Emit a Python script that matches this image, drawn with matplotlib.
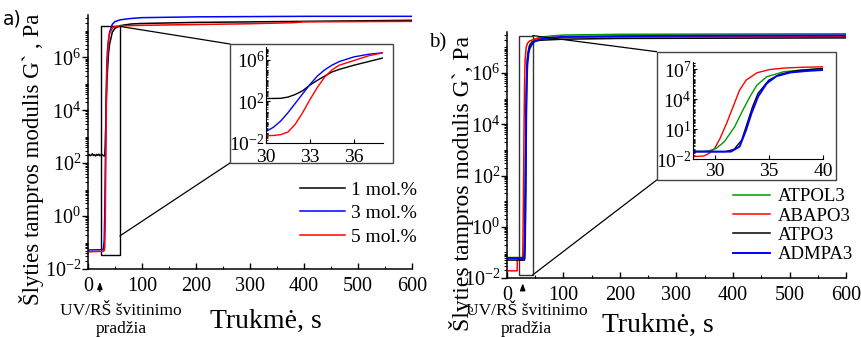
import numpy as np
import matplotlib
matplotlib.use('Agg')
import matplotlib.pyplot as plt
from matplotlib.patches import Rectangle, ConnectionPatch
from matplotlib.ticker import LogLocator, FixedLocator, MultipleLocator, NullFormatter

plt.rcParams['font.family'] = ['Liberation Serif', 'DejaVu Serif']
plt.rcParams['mathtext.fontset'] = 'custom'
plt.rcParams['mathtext.rm'] = 'Liberation Serif'
plt.rcParams['mathtext.it'] = 'Liberation Serif:italic'
plt.rcParams['mathtext.bf'] = 'Liberation Serif:bold'

# ---------------- data (log10 of G', Pa) ----------------
# panel a, main
a_black_t = [0, 2, 4, 6, 8, 10, 12, 14, 16, 18, 20, 22, 24, 26, 28, 30, 31, 32, 33, 34, 35, 36, 37, 38, 40, 45, 50, 60, 80, 100, 150, 200, 300, 400, 500, 600]
a_black_lg = [2.30, 2.33, 2.28, 2.31, 2.35, 2.29, 2.32, 2.27, 2.33, 2.30, 2.34, 2.28, 2.31, 2.33, 2.29, 2.27, 2.28, 2.65, 3.55, 4.4, 5.05, 5.45, 5.8, 6.15, 6.5, 6.95, 7.1, 7.2, 7.26, 7.28, 7.3, 7.32, 7.34, 7.36, 7.38, 7.4]
a_blue_t = [0, 28, 29, 30, 31, 32, 33, 34, 35, 36, 37, 38, 40, 45, 50, 60, 80, 100, 200, 300, 400, 500, 600]
a_blue_lg = [-1.28, -1.27, -1.15, -0.9, 0.1, 1.8, 3.6, 5.0, 5.8, 6.25, 6.5, 6.65, 6.95, 7.25, 7.35, 7.42, 7.47, 7.5, 7.53, 7.54, 7.55, 7.55, 7.55]
a_red_t = [0, 29, 30, 31, 32, 33, 34, 35, 36, 37, 38, 40, 45, 50, 60, 100, 200, 300, 380, 400, 500, 600]
a_red_lg = [-1.35, -1.33, -1.3, -1.2, -0.2, 2.15, 4.3, 5.45, 5.9, 6.35, 6.65, 6.9, 7.1, 7.17, 7.19, 7.21, 7.24, 7.27, 7.31, 7.34, 7.35, 7.36]

# panel a, inset
ai_t = [30, 30.5, 31, 31.5, 32, 32.5, 33, 33.5, 34, 34.5, 35, 36, 37, 38]
ai_black_lg = [2.26, 2.27, 2.28, 2.4, 2.65, 3.0, 3.55, 4.0, 4.4, 4.8, 5.05, 5.45, 5.8, 6.15]
ai_blue_lg = [-0.9, -0.5, 0.1, 0.9, 1.8, 2.7, 3.6, 4.4, 5.0, 5.45, 5.8, 6.25, 6.5, 6.65]
ai_red_lg = [-1.3, -1.28, -1.2, -0.95, -0.2, 0.9, 2.15, 3.3, 4.3, 5.0, 5.45, 5.9, 6.35, 6.65]

# panel b, main
b_green_t = [0, 29, 30, 31, 32, 33, 34, 35, 36, 38, 40, 45, 50, 60, 80, 100, 200, 400, 600]
b_green_lg = [-1.2, -1.2, -0.9, 0.2, 2.0, 3.6, 5.1, 6.1, 6.6, 6.9, 7.1, 7.25, 7.33, 7.4, 7.45, 7.48, 7.51, 7.52, 7.53]
b_red_t = [0, 18, 18.2, 27, 28, 29, 30, 31, 32, 34, 36, 40, 50, 60, 100, 200, 400, 600]
b_red_lg = [-1.72, -1.72, -1.3, -1.3, -1.0, 1.0, 3.5, 5.5, 6.5, 7.0, 7.15, 7.25, 7.33, 7.36, 7.4, 7.41, 7.42, 7.43]
b_black_t = [0, 31, 32, 33, 34, 35, 36, 38, 40, 45, 50, 60, 100, 200, 400, 600]
b_black_lg = [-1.3, -1.3, -0.6, 1.6, 4.5, 5.9, 6.5, 6.85, 7.05, 7.2, 7.25, 7.28, 7.32, 7.35, 7.36, 7.37]
b_blue_t = [0, 31, 32, 33, 34, 35, 36, 38, 40, 45, 50, 60, 80, 100, 200, 400, 600]
b_blue_lg = [-1.22, -1.22, -0.5, 1.5, 4.3, 5.7, 6.3, 6.75, 6.95, 7.15, 7.25, 7.32, 7.38, 7.41, 7.44, 7.46, 7.47]

# panel b, inset
bi_red_t = [28, 29, 29.5, 30, 30.5, 31.1, 31.7, 32.3, 32.9, 33.9, 35.1, 36.5, 38, 40]
bi_red_lg = [-1.73, -1.67, -1.4, -0.9, 0.1, 1.6, 3.27, 4.93, 5.93, 6.67, 7.0, 7.15, 7.22, 7.27]
bi_green_t = [28, 29, 29.5, 30.15, 30.9, 31.85, 32.6, 33.25, 33.9, 34.8, 36.35, 38, 40]
bi_green_lg = [-1.2, -1.2, -1.15, -0.9, -0.23, 1.27, 2.93, 4.27, 5.43, 6.27, 6.77, 6.95, 7.1]
bi_black_t = [28, 31, 31.8, 32.5, 33, 33.5, 34, 35, 36, 37, 38, 40]
bi_black_lg = [-1.23, -1.23, -1.0, -0.07, 1.6, 3.27, 4.6, 5.93, 6.5, 6.77, 6.92, 7.1]
bi_blue_t = [28, 31.5, 32.3, 32.9, 33.4, 34.0, 34.8, 35.7, 37, 38.5, 40]
bi_blue_lg = [-1.23, -1.23, -0.73, 0.93, 2.6, 4.27, 5.6, 6.33, 6.7, 6.85, 6.95]

labels_a = ['1 mol.%', '3 mol.%', '5 mol.%']
labels_b = ['ATPOL3', 'ABAPO3', 'ATPO3', 'ADMPA3']
xticks_main = [0, 100, 200, 300, 400, 500, 600]

C_BLACK, C_BLUE, C_RED, C_GREEN = '#000000', '#0000ff', '#ff0000', '#009a00'

def P(lg):
    return np.power(10.0, np.asarray(lg, dtype=float))

W, H = 862, 337
fig = plt.figure(figsize=(W / 100, H / 100), dpi=100)

def fx(px):
    return px / W

def fy(py):
    return 1 - py / H

def rect(l, t, r, b):
    return [fx(l), fy(b), fx(r) - fx(l), fy(t) - fy(b)]

def style_main(ax, ylab, ylabsize):
    ax.set_yscale('log')
    ax.set_xlim(0, 600)
    ax.set_ylim(1e-2, 10 ** 7.6)
    for s in ['top', 'right']:
        ax.spines[s].set_visible(False)
    for s in ['left', 'bottom']:
        ax.spines[s].set_linewidth(1.1)
    ax.xaxis.set_major_locator(FixedLocator(xticks_main))
    ax.xaxis.set_minor_locator(MultipleLocator(50))
    ax.yaxis.set_major_locator(FixedLocator([1e-2, 1e0, 1e2, 1e4, 1e6]))
    ax.yaxis.set_minor_locator(LogLocator(base=10, subs=np.arange(1, 10), numticks=100))
    ax.yaxis.set_minor_formatter(NullFormatter())
    ax.tick_params(axis='x', which='major', direction='in', length=4, width=1, labelsize=14.5, pad=6)
    ax.tick_params(axis='x', which='minor', direction='in', length=2.5, width=0.8)
    ax.tick_params(axis='y', which='major', direction='out', length=4, width=1, labelsize=14.5, pad=1)
    ax.tick_params(axis='y', which='minor', direction='out', length=2, width=0.7)
    ax.set_ylabel(ylab, fontsize=ylabsize, labelpad=0)

def style_inset(ax, xlim, ylim, xt, yt, ypad, xpad):
    ax.set_yscale('log')
    ax.set_xlim(*xlim)
    ax.set_ylim(*ylim)
    for s in ['top', 'right']:
        ax.spines[s].set_visible(False)
    ax.patch.set_alpha(0)
    ax.xaxis.set_major_locator(FixedLocator(xt))
    ax.yaxis.set_major_locator(FixedLocator(yt))
    ax.yaxis.set_minor_locator(LogLocator(base=10, subs=np.arange(1, 10), numticks=100))
    ax.yaxis.set_minor_formatter(NullFormatter())
    ax.tick_params(axis='x', which='major', direction='in', length=3, labelsize=14, pad=xpad)
    ax.tick_params(axis='y', which='major', direction='in', length=3, labelsize=14, pad=ypad)
    ax.tick_params(axis='y', which='minor', direction='in', length=1.5, width=0.6)

# ================= panel a =================
axA = fig.add_axes(rect(88, 15, 412, 269))
style_main(axA, 'Šlyties tampros modulis G` , Pa', 16.5)
la1, = axA.plot(a_black_t, P(a_black_lg), color=C_BLACK, lw=1.1)
la2, = axA.plot(a_blue_t, P(a_blue_lg), color=C_BLUE, lw=1.1)
la3, = axA.plot(a_red_t, P(a_red_lg), color=C_RED, lw=1.1)
axA.set_xlabel('Trukmė, s', fontsize=20)
axA.xaxis.set_label_coords(0.55, -0.158)
axA.yaxis.set_label_coords(-0.135, 0.43)

# zoom rectangle
zA = (24, 10 ** -1.47, 59, 10 ** 7.17)
axA.add_patch(Rectangle((zA[0], zA[1]), zA[2] - zA[0], zA[3] - zA[1], fill=False, ec='black', lw=1.0, zorder=1))
fig.patches.append(Rectangle((fx(230), fy(163)), fx(393) - fx(230), fy(44) - fy(163), transform=fig.transFigure,
                             fill=False, ec='#444444', lw=1.0, figure=fig))
for (xa, ya), (xb, yb) in [((zA[2], zA[3]), (230, 44)), ((zA[2], 10 ** -0.75), (230, 163))]:
    cp = ConnectionPatch(xyA=(xa, ya), coordsA=axA.transData, xyB=(fx(xb), fy(yb)), coordsB=fig.transFigure,
                         color='black', lw=0.9)
    fig.add_artist(cp)

axA.legend([la1, la2, la3], labels_a, loc='upper left', bbox_to_anchor=(fx(300), fy(181)),
           bbox_transform=fig.transFigure, frameon=False, fontsize=14, borderpad=0, borderaxespad=0,
           handlelength=2.3, handletextpad=0.3, labelspacing=0.3)

axA.annotate('', xy=(22, -0.04), xycoords=('data', 'axes fraction'), xytext=(22, -0.10),
             textcoords=('data', 'axes fraction'),
             arrowprops=dict(arrowstyle='-|>,head_length=0.4,head_width=0.15', color='black', lw=1.0))
fig.text(fx(121), fy(320), 'UV/RŠ švitinimo\npradžia', ha='center', va='center', fontsize=12.5,
         multialignment='center', linespacing=1.15)
fig.text(fx(12), fy(19), 'a)', ha='center', va='center', fontsize=13.5, family='DejaVu Sans')

# inset a
iA = fig.add_axes(rect(266, 47, 383, 143))
style_inset(iA, (30, 38), (1e-2, 10 ** 7.2), [30, 33, 36], [1e-2, 1e2, 1e6], 1, 4)
iA.plot(ai_t, P(ai_black_lg), color=C_BLACK, lw=1.0)
iA.plot(ai_t, P(ai_blue_lg), color=C_BLUE, lw=1.0)
iA.plot(ai_t, P(ai_red_lg), color=C_RED, lw=1.0)

# ================= panel b =================
axB = fig.add_axes(rect(507, 32, 846, 278))
style_main(axB, 'Šlyties tampros modulis G`, Pa', 17)
lb1, = axB.plot(b_green_t, P(b_green_lg), color=C_GREEN, lw=1.1)
lb2, = axB.plot(b_red_t, P(b_red_lg), color=C_RED, lw=1.1)
lb3, = axB.plot(b_black_t, P(b_black_lg), color=C_BLACK, lw=1.1)
lb4, = axB.plot(b_blue_t, P(b_blue_lg), color=C_BLUE, lw=1.4)
axB.set_xlabel('Trukmė, s', fontsize=20)
axB.xaxis.set_label_coords(0.445, -0.142)
axB.yaxis.set_label_coords(-0.097, 0.385)

zB = (21.8, 10 ** -1.88, 45.5, 10 ** 7.46)
axB.add_patch(Rectangle((zB[0], zB[1]), zB[2] - zB[0], zB[3] - zB[1], fill=False, ec='#333333', lw=1.0, zorder=1))
fig.patches.append(Rectangle((fx(656.7), fy(180)), fx(836) - fx(656.7), fy(51.7) - fy(180), transform=fig.transFigure,
                             fill=False, ec='#444444', lw=1.0, figure=fig))
for (xa, ya), (xb, yb) in [((zB[2], zB[3]), (656.7, 51.7)), ((zB[2], zB[1]), (656.7, 180))]:
    cp = ConnectionPatch(xyA=(xa, ya), coordsA=axB.transData, xyB=(fx(xb), fy(yb)), coordsB=fig.transFigure,
                         color='black', lw=0.9)
    fig.add_artist(cp)

axB.legend([lb1, lb2, lb3, lb4], labels_b, loc='upper left', bbox_to_anchor=(fx(733), fy(188)),
           bbox_transform=fig.transFigure, frameon=False, fontsize=13.5, borderpad=0, borderaxespad=0,
           handlelength=2.0, handletextpad=0.4, labelspacing=0.12)

axB.annotate('', xy=(27.8, -0.01), xycoords=('data', 'axes fraction'), xytext=(27.8, -0.06),
             textcoords=('data', 'axes fraction'),
             arrowprops=dict(arrowstyle='-|>,head_length=0.4,head_width=0.15', color='black', lw=1.0))
fig.text(fx(526.5), fy(320), 'UV/RŠ švitinimo\npradžia', ha='center', va='center', fontsize=12.5,
         multialignment='center', linespacing=1.15)
fig.text(fx(438), fy(43), 'b)', ha='center', va='center', fontsize=15)

iB = fig.add_axes(rect(693, 62, 823, 159.3))
style_inset(iB, (28, 40), (1e-2, 10 ** 7.75), [30, 35, 40], [1e-2, 1e1, 1e4, 1e7], 1, 3)
iB.plot(bi_red_t, P(bi_red_lg), color=C_RED, lw=1.0)
iB.plot(bi_green_t, P(bi_green_lg), color=C_GREEN, lw=1.0)
iB.plot(bi_black_t, P(bi_black_lg), color=C_BLACK, lw=1.0)
iB.plot(bi_blue_t, P(bi_blue_lg), color=C_BLUE, lw=1.4)

fig.savefig('out.png', dpi=100)
